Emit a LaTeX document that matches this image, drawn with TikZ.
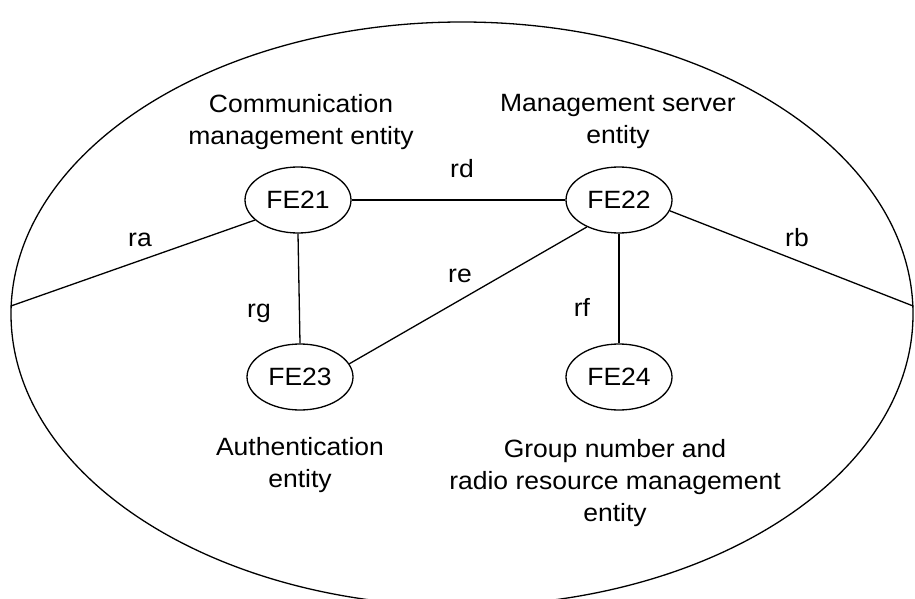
\documentclass[tikz,border=0pt]{standalone}
\usepackage{fontspec}
\setmainfont{Liberation Sans}[FakeStretch=1.06]
\usetikzlibrary{shapes.geometric}
\begin{document}
\begin{tikzpicture}[x=1pt,y=-1pt,
  every node/.style={font=\fontsize{25}{32}\selectfont},
  fe/.style={draw,ellipse,line width=1.3pt,minimum width=106pt,minimum height=66pt,inner sep=0pt},
  link/.style={line width=1.3pt},
  lbl/.style={anchor=base,inner sep=0pt},
  caption/.style={anchor=north,align=center,inner sep=0pt}]
\useasboundingbox (0,0) rectangle (915,599);
\clip (0,0) rectangle (915,599);
\node[draw,ellipse,line width=1.3pt,minimum width=902pt,minimum height=584pt,inner sep=0pt] (outer) at (462,314) {};
\node[fe] (fe21) at (298,200) {FE21};
\node[fe] (fe22) at (619,200) {FE22};
\node[fe] (fe23) at (300,377) {FE23};
\node[fe] (fe24) at (619,377) {FE24};
\draw[link] (fe21.east) -- (fe22.west);
\draw[link] (fe21.south) -- (fe23.north);
\draw[link] (fe22.south) -- (fe24.north);
\draw[link] (fe23.15) -- (fe22.220);
\draw[link] (outer.179.4) -- (fe21.205);
\draw[link] (fe22.348) -- (outer.1.1);
\node[lbl] (lra) at (140,246) {ra};
\node[lbl] (lrd) at (462,177) {rd};
\node[lbl] (lrb) at (797,246) {rb};
\node[lbl] (lre) at (460,282) {re};
\node[lbl] (lrg) at (259,317) {rg};
\node[lbl] (lrf) at (582,316) {rf};
\node[caption] (c21) at (301,94) {Communication\\management entity};
\node[caption] (c22) at (618,94) {Management server\\entity};
\node[caption] (c23) at (300,437) {Authentication\\entity};
\node[caption] (c24) at (615,439) {Group number and\\radio resource management\\entity};
\end{tikzpicture}
\end{document}
